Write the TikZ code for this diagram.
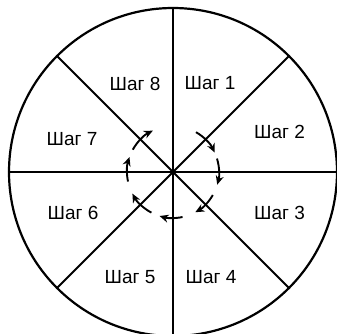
\documentclass[tikz,border=0pt]{standalone}
\usepackage{fontspec}
\setmainfont{Liberation Sans}
\usetikzlibrary{arrows.meta}
\begin{document}
\begin{tikzpicture}[x=1pt,y=1pt,
  wheelline/.style={line width=2pt},
  steplabel/.style={inner sep=0pt, anchor=center, font=\fontsize{19}{21}\selectfont},
  flow/.style={line width=1.9pt, -{Stealth[length=9pt,width=8pt]}}]
\useasboundingbox (0,0) rectangle (337,-333);
\coordinate (c) at (173,-172);
\node[draw, circle, line width=2.2pt, minimum size=328pt, inner sep=0pt] (wheel) at (c) {};
\draw[wheelline] (wheel.north) -- (wheel.south);
\draw[wheelline] (wheel.west) -- (wheel.east);
\draw[wheelline] (wheel.45) -- (wheel.225);
\draw[wheelline] (wheel.135) -- (wheel.-45);
\node[steplabel] (s1) at (210,-83) {Шаг 1};
\node[steplabel] (s2) at (279.5,-132) {Шаг 2};
\node[steplabel] (s3) at (279.5,-213) {Шаг 3};
\node[steplabel] (s4) at (211,-277) {Шаг 4};
\node[steplabel] (s5) at (130,-277) {Шаг 5};
\node[steplabel] (s6) at (73,-213) {Шаг 6};
\node[steplabel] (s7) at (72,-139) {Шаг 7};
\node[steplabel] (s8) at (135,-84) {Шаг 8};
\foreach \a/\b in {60/25, 17/-16, -30/-61, -78/-107, -118/-152, -168/-199, -209/-244}{
  \draw[flow] (c) ++(\a:46) arc[start angle=\a, end angle=\b, radius=46];
}
\end{tikzpicture}
\end{document}
